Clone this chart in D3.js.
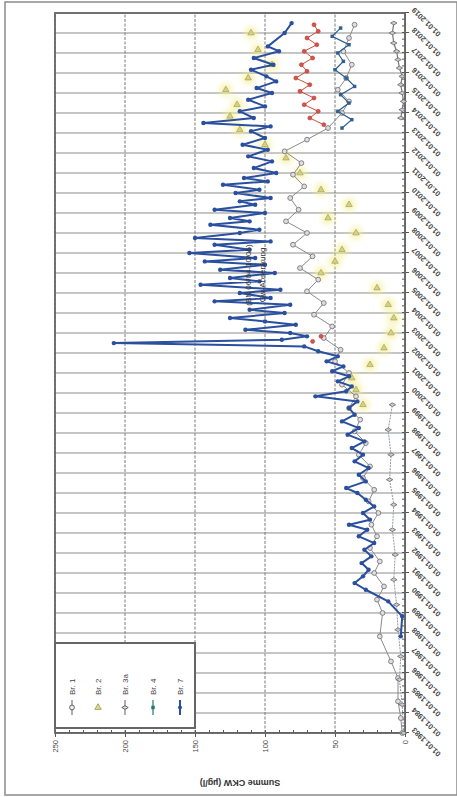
<!DOCTYPE html>
<html>
<head>
<meta charset="utf-8">
<script src="https://cdn.jsdelivr.net/npm/d3@7"></script>
<style>
  body { margin: 0; background: #fff; }
  svg { display: block; font-family: "Liberation Sans", Arial, sans-serif; }
</style>
</head>
<body>
<div id="chart"></div>
<script>
// Messwerte Summe CKW (µg/l), Datum als "JJJJ-MM"
const br1 = [
  ["1983-01", 2], ["1983-10", 3], ["1984-08", 5], ["1985-10", 5], ["1986-08", 10],
  ["1987-11", 18], ["1989-01", 16], ["1989-09", 20], ["1990-05", 15], ["1991-01", 22],
  ["1991-08", 18], ["1992-04", 25], ["1992-11", 20], ["1993-06", 24], ["1994-01", 19],
  ["1994-08", 26], ["1995-03", 22], ["1995-10", 30], ["1996-05", 25], ["1996-12", 33],
  ["1997-07", 28], ["1998-02", 36], ["1998-09", 32], ["1999-04", 40], ["1999-11", 35],
  ["2000-06", 45], ["2001-01", 40], ["2001-08", 50], ["2002-03", 46], ["2002-10", 58],
  ["2003-05", 52], ["2003-12", 65], ["2004-07", 58], ["2005-02", 70], ["2005-09", 62],
  ["2006-04", 75], ["2006-11", 66], ["2007-06", 80], ["2008-01", 70], ["2008-08", 85],
  ["2009-03", 76], ["2009-10", 82], ["2010-05", 72], ["2010-12", 80], ["2011-07", 74],
  ["2012-02", 86], ["2012-09", 70], ["2013-04", 55], ["2014-01", 45], ["2014-08", 40],
  ["2015-03", 48], ["2015-10", 42], ["2016-06", 38], ["2017-02", 44], ["2017-10", 40],
  ["2018-06", 36]
];
const br2 = [
  ["1999-06", 30], ["2000-03", 35], ["2000-10", 38], ["2001-06", 25], ["2002-04", 15],
  ["2003-01", 10], ["2003-10", 8], ["2004-06", 12], ["2005-04", 20], ["2006-01", 60],
  ["2006-08", 50], ["2007-03", 45], ["2008-01", 35], ["2008-10", 55], ["2009-06", 40],
  ["2010-03", 60], ["2011-01", 75], ["2011-10", 85], ["2012-06", 100], ["2013-03", 118],
  ["2013-11", 125], ["2014-06", 120], ["2015-03", 128], ["2015-10", 112], ["2016-06", 95],
  ["2017-03", 105], ["2018-01", 110]
];
const br3a = [
  ["1983-01", 1], ["1984-06", 2], ["1985-09", 4], ["1986-11", 3], ["1988-03", 5],
  ["1989-06", 6], ["1990-09", 8], ["1991-12", 7], ["1993-03", 9], ["1994-06", 8],
  ["1995-09", 11], ["1996-12", 10], ["1998-03", 12], ["1999-06", 9],
  ["2013-10", 3], ["2014-03", 2], ["2014-08", 1], ["2015-01", 2], ["2015-06", 3],
  ["2015-11", 2], ["2016-04", 4], ["2016-09", 5], ["2017-02", 6], ["2017-07", 8],
  ["2018-01", 9], ["2018-07", 8]
];
const br4 = [
  ["2013-04", 45], ["2013-09", 38], ["2014-02", 48], ["2014-07", 40], ["2014-12", 46],
  ["2015-05", 36], ["2015-10", 42], ["2016-03", 50], ["2016-08", 44], ["2017-01", 48],
  ["2017-06", 40], ["2017-11", 52], ["2018-04", 46]
];
const brRot = [
  ["2002-08", 66], ["2002-11", 60], ["2013-06", 58], ["2013-10", 68], ["2014-02", 62],
  ["2014-06", 72], ["2014-10", 65], ["2015-02", 75], ["2015-06", 68], ["2015-10", 78],
  ["2016-02", 70], ["2016-06", 74], ["2016-10", 66], ["2017-02", 72], ["2017-06", 63],
  ["2017-10", 70], ["2018-02", 62], ["2018-06", 65]
];
const br7 = [
  ["1987-11", 3], ["1988-11", 2], ["1989-08", 12], ["1990-03", 28], ["1990-07", 36],
  ["1990-11", 30], ["1991-03", 26], ["1991-07", 31], ["1991-11", 24], ["1992-03", 29],
  ["1992-07", 22], ["1992-11", 33], ["1993-03", 27], ["1993-06", 40], ["1993-09", 25],
  ["1994-01", 30], ["1994-05", 22], ["1994-09", 28], ["1995-01", 34], ["1995-04", 42],
  ["1995-08", 28], ["1995-12", 33], ["1996-04", 26], ["1996-08", 36], ["1996-12", 30],
  ["1997-04", 38], ["1997-08", 29], ["1997-12", 41], ["1998-04", 33], ["1998-08", 45],
  ["1998-12", 36], ["1999-04", 40], ["1999-08", 34], ["1999-11", 64], ["2000-02", 42],
  ["2000-05", 38], ["2000-08", 48], ["2000-11", 40], ["2001-02", 52], ["2001-05", 44],
  ["2001-08", 56], ["2001-11", 48], ["2002-02", 62], ["2002-05", 72], ["2002-07", 208],
  ["2002-09", 88], ["2002-11", 70], ["2003-01", 82], ["2003-03", 114], ["2003-06", 78],
  ["2003-08", 100], ["2003-10", 125], ["2004-01", 86], ["2004-03", 111], ["2004-06", 82],
  ["2004-08", 136], ["2004-10", 96], ["2005-01", 118], ["2005-03", 89], ["2005-06", 146],
  ["2005-08", 104], ["2005-10", 125], ["2006-01", 93], ["2006-03", 132], ["2006-06", 100],
  ["2006-08", 143], ["2006-10", 107], ["2007-01", 154], ["2007-03", 111], ["2007-06", 136],
  ["2007-08", 96], ["2007-10", 150], ["2008-01", 118], ["2008-03", 104], ["2008-06", 139],
  ["2008-08", 111], ["2008-10", 125], ["2009-01", 100], ["2009-03", 136], ["2009-06", 107],
  ["2009-08", 118], ["2009-10", 96], ["2010-01", 121], ["2010-03", 104], ["2010-06", 130],
  ["2010-08", 98], ["2010-10", 115], ["2011-01", 92], ["2011-04", 108], ["2011-08", 95],
  ["2011-11", 112], ["2012-03", 98], ["2012-06", 116], ["2012-10", 100], ["2013-02", 110],
  ["2013-05", 96], ["2013-07", 144], ["2013-10", 108], ["2014-02", 118], ["2014-05", 100],
  ["2014-09", 112], ["2015-01", 95], ["2015-04", 106], ["2015-08", 92], ["2015-11", 99],
  ["2016-03", 110], ["2016-06", 94], ["2016-10", 108], ["2017-02", 90], ["2017-05", 98],
  ["2018-01", 86], ["2018-07", 81]
];

const valueTicks = [0, 50, 100, 150, 200, 250];
const legendLabels = ["Br. 1", "Br. 2", "Br. 3a", "Br. 4", "Br. 7"];

// Das Original liegt um 90° gedreht auf der Seite
const W = 797, H = 457;
const plot = { left: 64, right: 784, top: 55, bottom: 405 };
const parse = d3.timeParse("%Y-%m");

const svg = d3.select("#chart").append("svg")
  .attr("width", H)
  .attr("height", W);

const defs = svg.append("defs");
defs.append("filter").attr("id", "glow")
  .attr("x", "-100%").attr("y", "-100%").attr("width", "300%").attr("height", "300%")
  .append("feGaussianBlur").attr("stdDeviation", 3);

const g = svg.append("g")
  .attr("transform", `translate(0,${W}) rotate(-90)`);

// Rahmen aussen
g.append("rect")
  .attr("x", 2).attr("y", 5)
  .attr("width", W - 4).attr("height", H - 5)
  .attr("fill", "none").attr("stroke", "#8a8a8a").attr("stroke-width", 1.5);

const x = d3.scaleTime()
  .domain([new Date(1983, 0, 1), new Date(2019, 0, 1)])
  .range([plot.left, plot.right]);

const y = d3.scaleLinear()
  .domain([0, 250])
  .range([plot.bottom, plot.top]);

// Gitter
g.append("g")
  .selectAll("line")
  .data(x.ticks(d3.timeYear.every(1)))
  .join("line")
  .attr("x1", d => x(d)).attr("x2", d => x(d))
  .attr("y1", plot.top).attr("y2", plot.bottom)
  .attr("stroke", "#8c8c8c").attr("stroke-width", 1);

g.append("g")
  .selectAll("line")
  .data(valueTicks)
  .join("line")
  .attr("x1", plot.left).attr("x2", plot.right)
  .attr("y1", d => y(d)).attr("y2", d => y(d))
  .attr("stroke", "#7a7a7a").attr("stroke-width", 1)
  .attr("stroke-dasharray", "3,1.5");

// Achsen
const xAxis = g.append("g")
  .attr("transform", `translate(0,${plot.bottom})`)
  .call(d3.axisBottom(x)
    .ticks(d3.timeYear.every(1))
    .tickSize(4)
    .tickFormat(d3.timeFormat("%d.%m.%Y")));
xAxis.selectAll("text")
  .attr("text-anchor", "end")
  .attr("dx", "-0.4em").attr("dy", "0.5em")
  .attr("transform", "rotate(-45)")
  .attr("font-size", 7.5).attr("font-weight", "bold").attr("fill", "#444");

g.append("g")
  .attr("transform", `translate(0,${plot.bottom})`)
  .call(d3.axisBottom(x).ticks(d3.timeMonth.every(4)).tickSize(-3).tickFormat(""))
  .call(a => a.select(".domain").remove());

const yAxis = g.append("g")
  .attr("transform", `translate(${plot.left},0)`)
  .call(d3.axisLeft(y).tickValues(valueTicks).tickSize(4));
yAxis.selectAll("text")
  .attr("font-size", 7.5).attr("fill", "#444");

g.append("g")
  .attr("transform", `translate(${plot.left},0)`)
  .call(d3.axisLeft(y).ticks(25).tickSize(-3).tickFormat(""))
  .call(a => a.select(".domain").remove());

g.selectAll(".tick line").attr("stroke", "#555");
g.selectAll(".domain").attr("stroke", "#555");

g.append("rect")
  .attr("x", plot.left).attr("y", plot.top)
  .attr("width", plot.right - plot.left).attr("height", plot.bottom - plot.top)
  .attr("fill", "none").attr("stroke", "#666").attr("stroke-width", 1.8);

g.append("text")
  .attr("transform", `translate(17,${(plot.top + plot.bottom) / 2 + 10}) rotate(-90)`)
  .attr("text-anchor", "middle")
  .attr("font-size", 9).attr("font-weight", "bold").attr("fill", "#333")
  .text("Summe CKW (µg/l)");

// Reihen
const line = d3.line()
  .x(d => x(parse(d[0])))
  .y(d => y(d[1]));

const triangle = d3.symbol().type(d3.symbolTriangle).size(18);
const diamond = d3.symbol().type(d3.symbolDiamond).size(12);
const square = d3.symbol().type(d3.symbolSquare).size(12);

// Br. 2: gelbe Dreiecke mit Schein
g.append("g").attr("filter", "url(#glow)")
  .selectAll("circle").data(br2).join("circle")
  .attr("cx", d => x(parse(d[0]))).attr("cy", d => y(d[1]))
  .attr("r", 6).attr("fill", "#f3ee8e").attr("opacity", 0.8);

// Br. 1
g.append("path").datum(br1)
  .attr("fill", "none").attr("stroke", "#8a8a8a").attr("stroke-width", 1)
  .attr("d", line);
g.append("g").selectAll("circle").data(br1).join("circle")
  .attr("cx", d => x(parse(d[0]))).attr("cy", d => y(d[1]))
  .attr("r", 2.4).attr("fill", "#e2dbe8").attr("stroke", "#777").attr("stroke-width", 0.9);

// Br. 3a
g.append("path").datum(br3a.slice(0, 14))
  .attr("fill", "none").attr("stroke", "#8d98a8").attr("stroke-width", 1)
  .attr("stroke-dasharray", "2,1").attr("d", line);
g.append("path").datum(br3a.slice(14))
  .attr("fill", "none").attr("stroke", "#777").attr("stroke-width", 1.2)
  .attr("d", line);
g.append("g").selectAll("path").data(br3a).join("path")
  .attr("transform", d => `translate(${x(parse(d[0]))},${y(d[1])})`)
  .attr("d", diamond).attr("fill", "#ccc").attr("stroke", "#666").attr("stroke-width", 0.8);

// Br. 2 Dreiecke
g.append("g").selectAll("path").data(br2).join("path")
  .attr("transform", d => `translate(${x(parse(d[0]))},${y(d[1])}) rotate(90)`)
  .attr("d", triangle).attr("fill", "#d8d27a").attr("stroke", "#9a9560").attr("stroke-width", 0.6);

// rote Messreihe
g.append("path").datum(brRot.slice(2))
  .attr("fill", "none").attr("stroke", "#d04a3a").attr("stroke-width", 1)
  .attr("d", line);
g.append("g").selectAll("circle").data(brRot).join("circle")
  .attr("cx", d => x(parse(d[0]))).attr("cy", d => y(d[1]))
  .attr("r", 2).attr("fill", "#d9534a").attr("stroke", "#b03a30").attr("stroke-width", 0.6);

// Br. 4
g.append("path").datum(br4)
  .attr("fill", "none").attr("stroke", "#2e5f8e").attr("stroke-width", 1.2)
  .attr("d", line);
g.append("g").selectAll("path").data(br4).join("path")
  .attr("transform", d => `translate(${x(parse(d[0]))},${y(d[1])})`)
  .attr("d", square).attr("fill", "#2e5f8e");

// Br. 7
g.append("path").datum(br7)
  .attr("fill", "none").attr("stroke", "#2a4f9e").attr("stroke-width", 2)
  .attr("stroke-linejoin", "round")
  .attr("d", line);
g.append("g").selectAll("circle").data(br7).join("circle")
  .attr("cx", d => x(parse(d[0]))).attr("cy", d => y(d[1]))
  .attr("r", 2.2).attr("fill", "#2a4f9e");

// Hinweis Grundwasserabsenkung
const note = g.append("text")
  .attr("x", 522).attr("y", 251)
  .attr("text-anchor", "middle")
  .attr("font-size", 8).attr("fill", "#333");
note.append("tspan").attr("x", 522).text("(BN 06/04-10/05)");
note.append("tspan").attr("x", 522).attr("dy", 14).text("Gw-Absenkung");

// Legende
const legend = g.append("g");
legend.append("rect")
  .attr("x", 69).attr("y", 55)
  .attr("width", 85).attr("height", 140)
  .attr("fill", "#fff").attr("stroke", "#666").attr("stroke-width", 2);

const legendColors = ["#777", "#d8d27a", "#777", "#1f7a6a", "#2a4f9e"];
const legendRows = [72, 98, 125, 153, 180];
legendLabels.forEach((lab, i) => {
  const ly = legendRows[i];
  if (i !== 1) {
    legend.append("line")
      .attr("x1", 82).attr("x2", 97).attr("y1", ly).attr("y2", ly)
      .attr("stroke", legendColors[i]).attr("stroke-width", i === 4 ? 2 : 1.2);
  }
  const m = legend.append("g").attr("transform", `translate(89.5,${ly})`);
  if (i === 0) m.append("circle").attr("r", 2.4).attr("fill", "#eee").attr("stroke", "#666");
  if (i === 1) m.append("path").attr("d", triangle).attr("transform", "rotate(90)").attr("fill", "#e2dc8a").attr("stroke", "#aaa56a");
  if (i === 2) m.append("path").attr("d", diamond).attr("fill", "#ddd").attr("stroke", "#666");
  if (i === 3) m.append("path").attr("d", square).attr("fill", "#1f7a6a");
  if (i === 4) m.append("circle").attr("r", 2).attr("fill", "#2a4f9e");
  legend.append("text")
    .attr("x", 102).attr("y", ly).attr("dy", "0.35em")
    .attr("font-size", 8).attr("fill", "#444")
    .text(lab);
});
</script>
</body>
</html>
